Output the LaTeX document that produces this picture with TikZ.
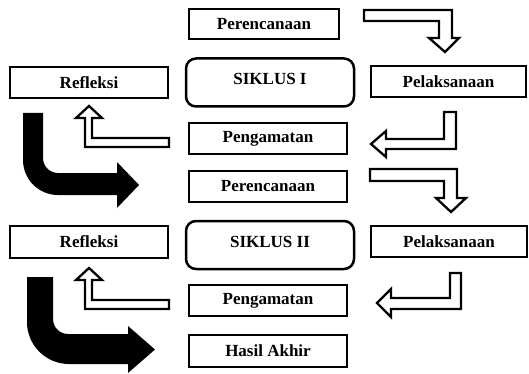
\documentclass[tikz,border=0pt]{standalone}
\usepackage{fontspec}
\setmainfont{Liberation Serif}
\begin{document}
\begin{tikzpicture}[x=1pt,y=1pt,
  lbl/.style={font=\fontsize{17}{19}\selectfont\bfseries},
  box/.style={draw=black,line width=2.2pt,fill=white,inner sep=0pt,lbl},
  rbox/.style={draw=black,line width=2.5pt,rounded corners=10pt,inner sep=0pt,minimum width=168pt,minimum height=48pt},
  hollow/.style={draw=black,line width=2.3pt,fill=white,line join=miter},
  solid/.style={fill=black,draw=none}]
\useasboundingbox (0,0) rectangle (529,-374);
% boxes
\node[box,minimum width=150pt,minimum height=30pt] (per1) at (264,-24) {Perencanaan};
\node[rbox] (sik1) at (270,-82.5) {};
\node[lbl] (sik1t) at (270,-79) {SIKLUS I};
\node[box,minimum width=158pt,minimum height=31pt] (ref1) at (89,-82.5) {Refleksi};
\node[box,minimum width=155pt,minimum height=31pt] (pel1) at (448.5,-81.5) {Pelaksanaan};
\node[box,minimum width=158pt,minimum height=31pt] (pen1) at (268,-138.5) {Pengamatan};
\node[box,minimum width=158pt,minimum height=31pt] (per2) at (268,-186.5) {Perencanaan};
\node[rbox] (sik2) at (270,-245) {};
\node[lbl] (sik2t) at (270,-241.5) {SIKLUS II};
\node[box,minimum width=158pt,minimum height=32pt] (ref2) at (89,-242) {Refleksi};
\node[box,minimum width=156pt,minimum height=31pt] (pel2) at (449,-241.5) {Pelaksanaan};
\node[box,minimum width=158pt,minimum height=31pt] (pen2) at (268,-300.5) {Pengamatan};
\node[box,minimum width=158pt,minimum height=32pt] (has) at (268,-351) {Hasil Akhir};
% hollow bent arrows
\draw[hollow] (364,-10) -- (452,-10) -- (452,-38) -- (459,-38) -- (445,-52) -- (429,-38) -- (439,-38) -- (439,-21) -- (364,-21) -- cycle;
\draw[hollow] (444,-112) -- (456,-112) -- (456,-149) -- (386,-149) -- (386,-157) -- (371,-144) -- (386,-131) -- (386,-139) -- (444,-139) -- cycle;
\draw[hollow] (370,-169) -- (457,-169) -- (457,-198) -- (466,-198) -- (451,-212) -- (436,-198) -- (444,-198) -- (444,-181) -- (370,-181) -- cycle;
\draw[hollow] (450,-273) -- (461,-273) -- (461,-309) -- (391,-309) -- (391,-317) -- (377,-303) -- (391,-289) -- (391,-298) -- (450,-298) -- cycle;
\draw[hollow] (169,-138) -- (92,-138) -- (92,-118) -- (102,-118) -- (89,-106) -- (76,-118) -- (85,-118) -- (85,-147) -- (169,-147) -- cycle;
\draw[hollow] (169,-300) -- (92,-300) -- (92,-280) -- (102,-280) -- (89,-268) -- (76,-280) -- (85,-280) -- (85,-309) -- (169,-309) -- cycle;
% solid curved arrows
\fill[solid] (23,-113) -- (43,-113) -- (43,-158) arc[start angle=180,end angle=270,radius=15] -- (117,-173) -- (117,-162) -- (139,-185) -- (117,-208) -- (117,-195) -- (58,-195) arc[start angle=270,end angle=180,radius=35] -- cycle;
\fill[solid] (27,-277) -- (53,-277) -- (53,-319) arc[start angle=180,end angle=270,radius=15] -- (128,-334) -- (128,-326) -- (155,-349.5) -- (128,-373) -- (128,-364) -- (69,-364) arc[start angle=270,end angle=180,radius=42] -- cycle;
\end{tikzpicture}
\end{document}
